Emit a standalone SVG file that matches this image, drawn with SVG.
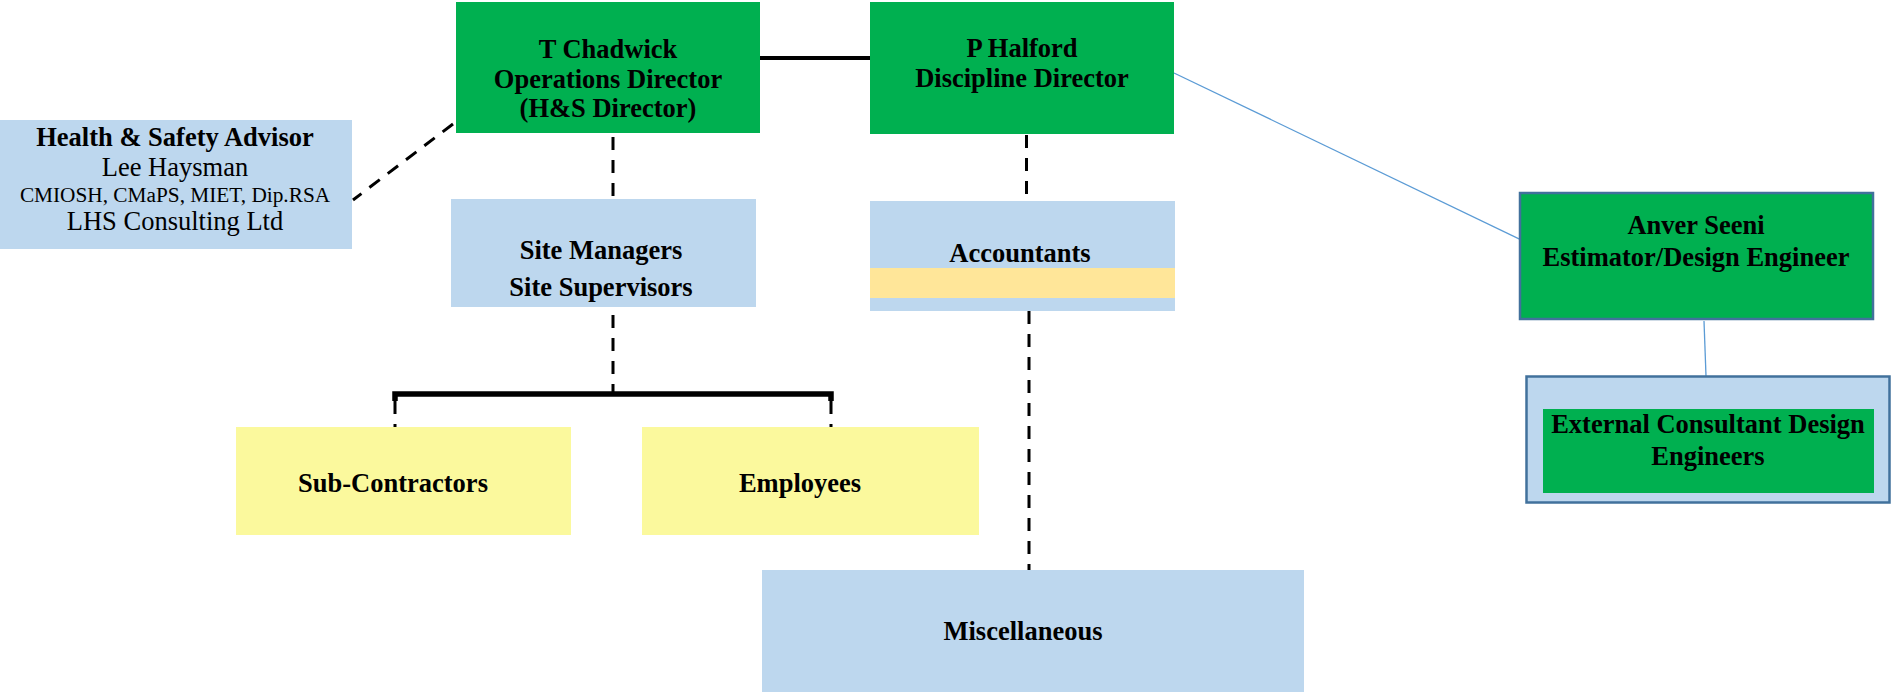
<svg xmlns="http://www.w3.org/2000/svg" width="1892" height="692" viewBox="0 0 1892 692">
<style>
  .t { font-family: "Liberation Serif", "Times New Roman", serif; fill: #000; text-anchor: middle; }
  .b { font-weight: bold; font-size: 26.5px; }
  .r { font-size: 26.5px; }
  .s { font-size: 21.3px; }
  .green { fill: #00B050; }
  .blue { fill: #BDD7EE; }
  .yellow { fill: #FBF99D; }
  .band { fill: #FFE699; }
  .outl { stroke: #41719C; stroke-width: 2.5; }
  .dash { stroke: #000; stroke-width: 3; stroke-dasharray: 13 10; fill: none; }
  .solid { stroke: #000; fill: none; }
  .thin { stroke: #5B9BD5; stroke-width: 1.3; fill: none; }
</style>
<rect width="1892" height="692" fill="#fff"/>
<g id="connectors">
  <line class="solid" x1="760" y1="58" x2="870" y2="58" stroke-width="4"/>
  <line class="dash" x1="453" y1="124" x2="353" y2="200" stroke-width="3.5"/>
  <line class="dash" x1="613" y1="137" x2="613" y2="199"/>
  <line class="dash" x1="1026.5" y1="135" x2="1026.5" y2="201"/>
  <line class="dash" x1="613" y1="315" x2="613" y2="394"/>
  <polyline class="solid" points="395,401 395,394 831,394 831,401" stroke-width="5.5"/>
  <line class="dash" x1="395" y1="401" x2="395" y2="427" stroke-dasharray="9 5"/>
  <line class="dash" x1="831" y1="401" x2="831" y2="427" stroke-dasharray="9 5"/>
  <line class="dash" x1="1029" y1="311" x2="1029" y2="570"/>
  <line class="thin" x1="1174" y1="73" x2="1534" y2="246"/>
  <line class="thin" x1="1704" y1="321" x2="1706" y2="376"/>
</g>
<g id="node-chadwick">
  <rect class="green" x="456" y="2" width="304" height="131"/>
  <text class="t b" x="608" y="58">T Chadwick</text>
  <text class="t b" x="608" y="88">Operations Director</text>
  <text class="t b" x="608" y="117">(H&amp;S Director)</text>
</g>
<g id="node-halford">
  <rect class="green" x="870" y="2" width="304" height="132"/>
  <text class="t b" x="1022" y="57">P Halford</text>
  <text class="t b" x="1022" y="87">Discipline Director</text>
</g>
<g id="node-hs">
  <rect class="blue" x="0" y="120" width="352" height="129"/>
  <text class="t b" x="175" y="146">Health &amp; Safety Advisor</text>
  <text class="t r" x="175" y="176">Lee Haysman</text>
  <text class="t s" x="175" y="202">CMIOSH, CMaPS, MIET, Dip.RSA</text>
  <text class="t r" x="175" y="230">LHS Consulting Ltd</text>
</g>
<g id="node-site">
  <rect class="blue" x="451" y="199" width="305" height="108"/>
  <text class="t b" x="601" y="259">Site Managers</text>
  <text class="t b" x="601" y="296">Site Supervisors</text>
</g>
<g id="node-accountants">
  <rect class="blue" x="870" y="201" width="305" height="110"/>
  <rect class="band" x="870" y="268" width="305" height="30"/>
  <text class="t b" x="1020" y="262">Accountants</text>
</g>
<g id="node-subcontractors">
  <rect class="yellow" x="236" y="427" width="335" height="108"/>
  <text class="t b" x="393" y="492">Sub-Contractors</text>
</g>
<g id="node-employees">
  <rect class="yellow" x="642" y="427" width="337" height="108"/>
  <text class="t b" x="800" y="492">Employees</text>
</g>
<g id="node-misc">
  <rect class="blue" x="762" y="570" width="542" height="122"/>
  <text class="t b" x="1023" y="640">Miscellaneous</text>
</g>
<g id="node-anver">
  <rect class="green outl" x="1520" y="193" width="353" height="126"/>
  <text class="t b" x="1696" y="234">Anver Seeni</text>
  <text class="t b" x="1696" y="266">Estimator/Design Engineer</text>
</g>
<g id="node-external">
  <rect class="blue outl" x="1526.5" y="376.5" width="363" height="126" stroke-width="3"/>
  <rect class="green" x="1543" y="409" width="331" height="84"/>
  <text class="t b" x="1708" y="433">External Consultant Design</text>
  <text class="t b" x="1708" y="465">Engineers</text>
</g>
</svg>
